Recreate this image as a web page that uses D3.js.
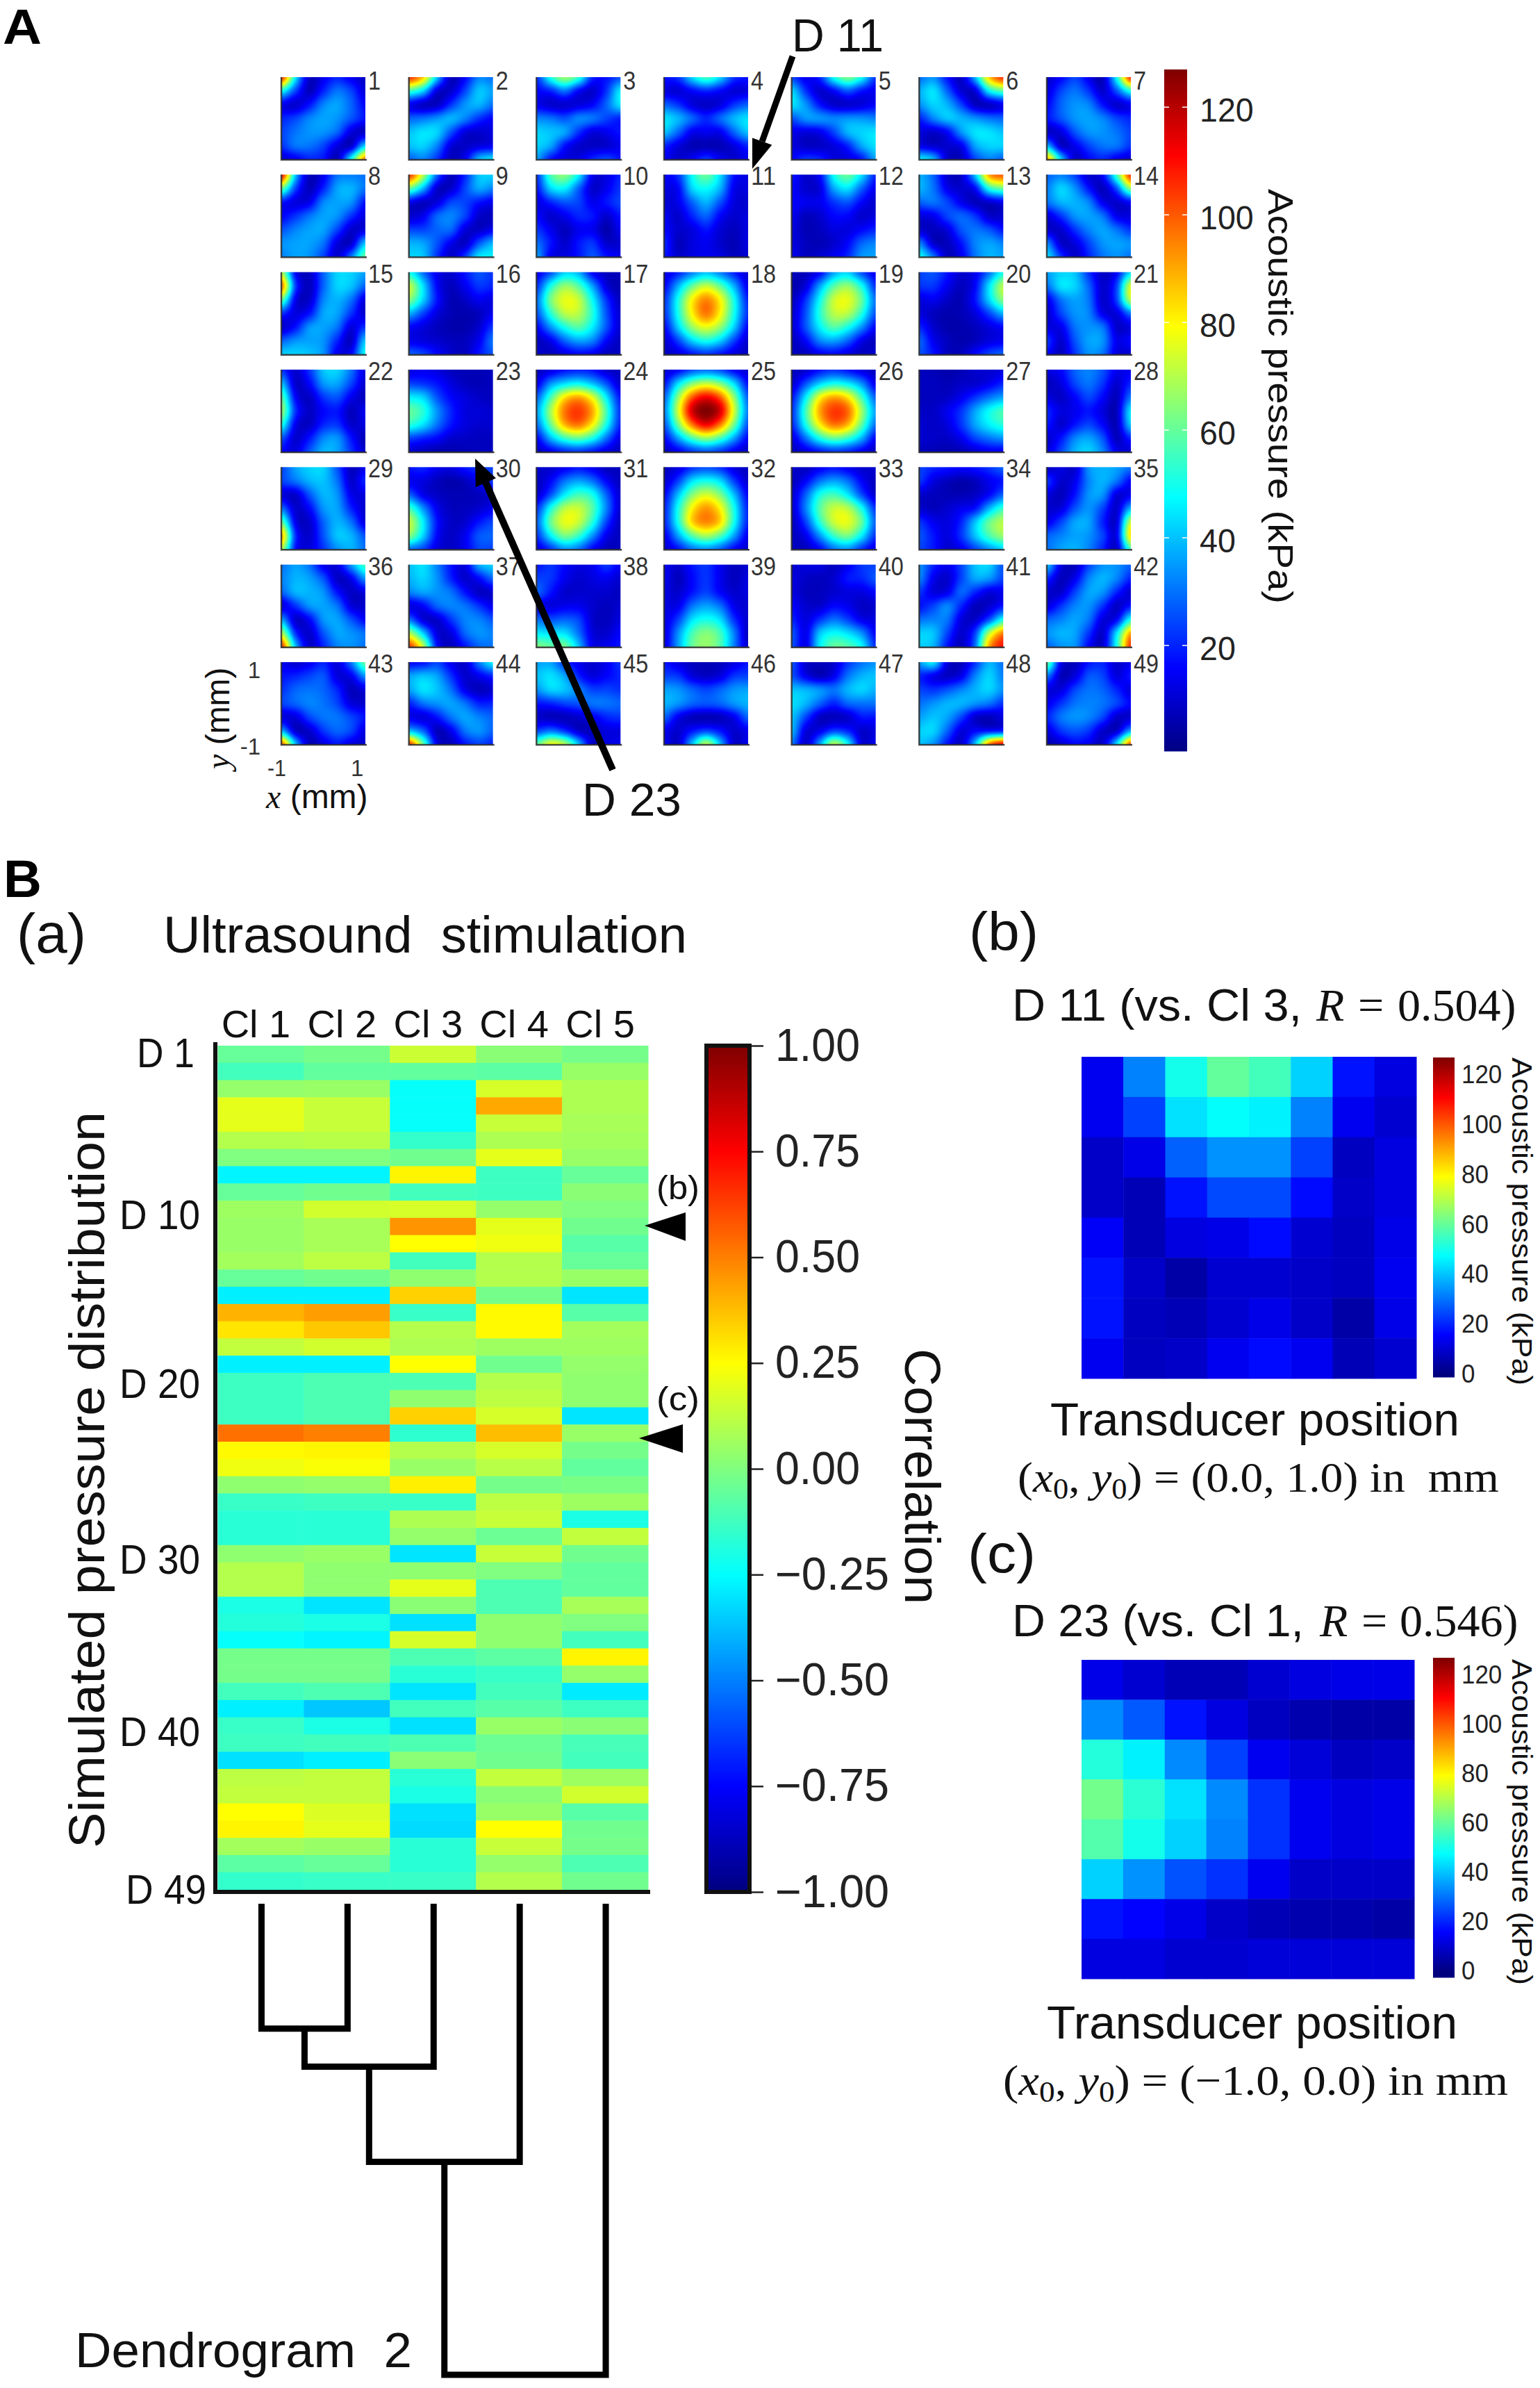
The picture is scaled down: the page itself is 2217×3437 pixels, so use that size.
<!DOCTYPE html>
<html>
<head>
<meta charset="utf-8">
<script src="https://d3js.org/d3.v7.min.js"></script>
<style>
body { margin: 0; background: white; }
text { white-space: pre; }
</style>
</head>
<body>
<script>
var W = 2217, H = 3437;
var SANS = "'Liberation Sans', Arial, sans-serif", SERIF = "'Liberation Serif', 'Times New Roman', serif";

//Simulated pressure maps in kPa, one 7x7 grid per transducer position D 1 .. D 49, top row first
var pressureMaps = [
[[105,45,9,14,20,14,9],[48,24,8,20,30,24,11],[14,10,18,32,36,28,16],[20,24,32,36,34,26,18],[24,30,34,34,28,12,9],[22,30,30,24,12,10,42],[10,14,20,18,8,48,95]],
[[105,85,40,8,16,32,30],[55,42,12,10,24,40,36],[14,9,9,22,34,38,30],[28,30,34,38,32,22,16],[40,44,42,26,12,10,12],[40,42,32,12,9,12,14],[28,32,22,8,14,38,44]],
[[22,50,66,52,20,18,26],[16,20,30,16,10,22,45],[14,10,10,12,16,28,44],[32,30,26,32,30,24,20],[42,40,36,22,12,14,18],[42,36,18,10,9,10,14],[36,18,12,12,20,24,18]],
[[18,22,42,55,42,22,18],[12,11,16,20,16,11,12],[28,22,12,9,12,22,28],[44,38,28,20,28,38,44],[40,28,14,14,14,28,40],[20,12,7,7,7,12,20],[14,10,14,22,14,10,14]],
[[24,14,20,48,62,48,22],[42,22,10,16,26,18,14],[44,34,18,10,10,12,16],[26,34,34,32,34,34,32],[14,12,14,24,38,42,44],[12,9,9,12,20,36,44],[16,22,20,12,12,18,36]],
[[30,34,18,9,38,85,105],[38,44,28,11,12,46,58],[34,42,38,24,9,9,14],[20,32,40,38,34,30,28],[12,10,16,34,44,44,40],[14,10,10,14,36,42,42],[46,38,10,8,24,32,28]],
[[10,16,24,14,8,48,105],[12,24,30,22,10,26,50],[16,28,34,32,18,10,14],[18,26,34,36,32,24,20],[9,12,26,34,34,30,24],[38,10,14,24,30,30,22],[90,42,10,16,20,14,10]],
[[110,40,8,14,30,32,30],[60,24,8,20,36,38,30],[18,12,14,32,36,34,18],[16,22,30,36,34,22,12],[26,32,36,36,24,10,12],[34,36,36,30,12,10,40],[32,36,34,24,10,30,60]],
[[105,70,28,8,20,40,42],[60,38,10,10,24,36,32],[14,9,12,24,24,18,14],[10,14,28,32,24,10,8],[24,24,28,28,12,9,14],[38,36,26,14,9,26,38],[42,40,22,9,22,44,46]],
[[22,56,64,46,14,12,20],[18,42,46,28,10,14,22],[12,20,26,24,14,18,24],[16,10,14,20,18,10,18],[22,14,8,14,14,6,14],[30,18,10,18,22,10,10],[36,14,12,18,26,18,14]],
[[14,22,48,60,44,18,12],[12,16,42,48,38,14,12],[10,14,28,38,26,12,10],[14,10,20,28,16,10,12],[16,10,12,18,11,8,12],[20,8,12,14,10,7,12],[18,10,12,14,12,8,10]],
[[18,10,16,48,60,44,20],[16,10,12,36,44,28,14],[16,14,14,22,26,16,10],[14,8,10,16,16,10,12],[12,7,8,12,12,16,20],[12,8,7,10,16,28,32],[14,8,10,14,20,34,36]],
[[38,28,10,10,40,90,100],[38,30,14,10,16,50,60],[28,30,24,14,8,10,14],[12,14,24,28,22,10,10],[10,8,12,26,30,26,18],[32,10,8,18,32,36,32],[48,30,8,14,30,38,36]],
[[28,32,24,10,16,55,105],[32,42,34,18,8,26,65],[30,38,38,32,14,10,16],[12,22,34,36,30,14,12],[10,10,22,32,36,30,22],[32,10,12,24,34,36,34],[44,22,9,20,30,34,30]],
[[70,16,9,28,42,42,36],[95,24,8,28,42,40,28],[60,14,10,32,38,30,12],[22,12,18,36,36,22,10],[10,18,34,36,30,12,22],[28,34,36,34,20,9,40],[42,42,40,34,14,16,48]],
[[50,30,14,10,18,26,22],[72,44,16,8,14,22,20],[64,42,18,7,9,14,12],[38,24,12,7,6,8,14],[16,12,8,6,6,10,22],[14,12,10,8,8,14,30],[28,24,16,10,8,18,26]],
[[14,26,42,38,16,8,8],[22,50,66,58,36,12,6],[30,62,76,72,48,22,8],[26,52,70,70,52,26,10],[16,34,50,58,46,26,10],[8,14,28,36,32,16,8],[10,8,12,16,14,8,8]],
[[12,20,32,40,32,20,10],[16,38,60,72,60,38,14],[22,50,80,94,80,50,20],[22,50,80,96,80,50,22],[16,42,66,76,66,42,16],[10,24,42,50,42,24,10],[8,12,18,22,18,12,8]],
[[8,8,16,36,42,26,14],[6,12,36,58,66,50,22],[8,22,48,72,76,60,30],[10,26,52,70,70,52,26],[10,26,46,58,50,34,16],[8,16,32,36,28,14,8],[8,8,14,16,12,8,10]],
[[24,26,18,10,14,30,50],[22,22,14,8,16,44,70],[12,14,9,7,18,42,64],[12,8,6,7,12,24,38],[20,10,6,6,8,12,16],[28,14,8,6,8,12,14],[26,18,8,8,16,24,28]],
[[36,42,40,22,9,16,44],[30,44,42,28,10,24,74],[14,30,36,30,10,24,70],[10,24,34,32,14,12,30],[12,14,30,34,30,10,12],[22,10,26,36,34,14,16],[16,8,22,34,30,12,10]],
[[22,10,22,40,42,30,12],[40,10,16,34,36,24,10],[58,16,9,22,26,14,8],[66,22,9,16,18,8,14],[50,14,9,20,22,10,12],[26,10,18,32,34,18,7],[16,12,26,38,36,22,10]],
[[12,14,12,8,7,7,8],[24,22,18,12,8,7,8],[46,42,26,16,12,9,8],[60,52,34,20,12,11,10],[52,44,30,18,12,10,10],[24,20,16,10,9,8,8],[10,8,6,6,7,8,8]],
[[8,12,18,20,18,10,8],[14,34,44,48,40,26,10],[28,56,82,90,76,46,18],[36,68,96,104,90,56,22],[30,60,88,96,80,50,20],[16,38,54,60,50,30,12],[8,14,20,22,18,12,8]],
[[10,16,26,30,26,16,10],[18,44,64,72,64,44,18],[28,66,100,112,100,66,28],[32,74,116,127,116,74,32],[26,62,96,112,96,62,26],[16,36,56,66,56,36,16],[8,14,22,26,22,14,8]],
[[8,10,18,22,18,12,8],[10,26,42,50,46,34,14],[18,46,78,90,82,56,28],[22,56,90,104,98,68,36],[20,50,80,96,88,60,30],[12,30,50,60,54,38,16],[8,12,18,22,20,14,8]],
[[8,7,6,7,10,10,12],[8,8,7,9,10,14,20],[8,8,9,14,22,30,36],[9,9,14,22,36,48,56],[10,9,12,22,36,46,52],[10,9,9,14,24,30,34],[8,7,6,7,10,14,14]],
[[12,16,28,32,26,14,14],[8,12,24,30,22,10,20],[12,9,16,24,16,8,30],[20,12,14,18,12,8,44],[18,10,18,24,16,8,40],[10,18,32,36,26,8,20],[12,24,38,42,32,14,10]],
[[24,36,42,42,26,8,14],[24,30,38,40,30,10,20],[12,10,26,38,34,14,12],[30,10,16,34,36,20,10],[60,14,10,28,38,30,12],[88,22,10,26,40,38,26],[70,18,12,22,34,38,30]],
[[18,20,14,12,18,22,24],[14,12,8,6,8,14,22],[28,14,9,7,7,8,10],[56,34,14,8,8,10,14],[72,46,18,9,10,18,24],[64,42,16,9,14,26,28],[30,24,12,9,14,24,24]],
[[10,10,14,18,14,8,8],[8,16,30,36,30,16,8],[10,26,46,56,50,28,10],[22,50,70,72,58,32,10],[28,60,76,72,52,24,8],[22,46,62,54,34,14,8],[12,22,34,30,16,8,8]],
[[8,12,22,26,22,12,8],[10,24,44,50,44,24,10],[16,40,64,74,64,40,16],[20,50,80,92,80,50,20],[20,50,84,94,84,50,20],[14,36,58,68,58,36,14],[10,18,30,34,28,16,10]],
[[10,8,14,18,14,10,10],[8,16,30,36,30,16,8],[10,28,50,56,46,26,10],[10,32,58,72,70,50,22],[8,24,52,72,76,60,28],[8,14,34,54,62,46,22],[8,8,16,30,34,22,12]],
[[24,20,18,16,18,22,28],[22,12,8,6,8,14,18],[10,8,7,7,9,16,28],[10,8,10,14,18,38,54],[22,14,12,20,40,60,70],[26,18,12,22,40,56,66],[24,18,10,14,24,34,42]],
[[8,12,10,34,38,36,30],[22,10,14,32,38,30,16],[12,8,18,34,34,12,14],[10,12,26,34,24,10,38],[14,24,36,36,20,12,72],[28,32,36,34,24,14,82],[30,36,38,32,20,10,55]],
[[30,36,30,14,12,34,55],[32,38,36,26,9,14,34],[28,38,38,34,18,9,12],[12,22,34,36,30,12,10],[36,10,16,34,36,26,16],[70,22,10,26,36,34,30],[105,40,10,20,32,34,30]],
[[40,44,32,18,12,36,42],[38,42,34,20,10,16,28],[32,36,34,30,18,9,10],[12,16,28,32,30,22,14],[30,12,10,22,32,32,26],[70,42,12,12,28,34,32],[105,72,18,8,18,28,30]],
[[18,22,16,12,14,22,14],[24,22,14,10,12,14,10],[28,18,10,10,10,10,8],[14,12,14,14,10,8,10],[30,26,28,24,10,8,12],[46,44,44,30,12,10,16],[64,60,62,40,14,14,18]],
[[14,10,18,22,14,8,10],[14,8,16,22,14,8,12],[12,10,18,24,16,10,12],[12,14,30,36,30,14,10],[12,24,44,50,44,22,10],[12,34,56,64,56,32,8],[12,36,60,66,58,32,10]],
[[10,12,12,8,14,22,24],[12,9,8,10,18,20,26],[12,8,8,10,12,12,16],[16,10,10,16,14,9,10],[20,12,22,30,24,14,12],[26,14,40,48,44,34,16],[26,14,46,60,58,48,22]],
[[34,20,14,24,40,42,26],[32,14,10,24,36,34,24],[22,12,14,28,20,12,14],[18,24,32,20,8,10,18],[30,32,30,12,10,26,50],[42,40,24,10,24,70,95],[42,38,18,8,30,90,110]],
[[40,12,8,24,34,34,28],[20,8,14,32,38,32,20],[10,10,24,36,34,20,10],[12,22,32,34,22,9,18],[28,32,36,30,12,16,50],[34,38,36,22,10,44,90],[28,34,34,16,10,50,105]],
[[14,10,14,20,12,30,60],[18,20,24,26,12,14,34],[22,28,30,28,20,8,12],[24,28,32,30,24,12,10],[12,12,24,30,30,24,18],[38,10,10,22,28,24,12],[100,40,8,12,18,12,10]],
[[16,18,24,14,10,30,46],[36,40,36,22,10,14,20],[36,44,40,30,14,8,10],[20,30,34,36,30,20,20],[14,12,18,30,36,32,28],[40,28,8,14,30,34,28],[105,60,14,8,18,24,20]],
[[36,36,22,14,10,14,22],[40,44,36,20,12,16,20],[34,42,40,32,24,24,22],[18,20,24,26,30,30,28],[10,8,8,10,14,20,22],[24,30,22,10,8,12,12],[60,78,70,40,10,12,14]],
[[18,12,8,7,8,12,18],[24,22,12,9,12,22,24],[36,34,28,24,28,34,36],[38,34,28,26,28,34,38],[28,14,8,7,8,14,28],[14,10,18,24,18,10,14],[14,10,40,70,40,10,14]],
[[26,10,8,10,22,30,34],[26,14,8,14,30,38,40],[40,38,34,30,38,42,38],[44,38,28,20,28,30,30],[40,24,9,8,10,18,18],[38,12,14,24,20,10,12],[30,10,36,70,48,12,14]],
[[36,44,12,8,22,38,30],[20,14,9,14,32,42,32],[24,22,26,32,38,42,34],[30,34,38,38,34,30,22],[36,40,36,24,10,8,12],[42,42,28,12,16,18,20],[40,34,18,10,40,95,112]],
[[60,14,8,18,20,10,14],[30,8,12,26,24,12,18],[12,12,24,30,28,20,12],[14,22,30,32,30,24,16],[20,30,34,32,24,10,10],[12,22,26,22,10,10,36],[6,10,16,14,10,44,100]]
];

//Correlation of each distribution with the five clusters
var clusters = ["Cl 1", "Cl 2", "Cl 3", "Cl 4", "Cl 5"];
var corrCl1 = [-.05,-.12,.04,.2,.2,.1,0,-.27,-.05,.06,.05,.05,.07,-.05,-.28,.4,.3,.13,-.28,-.13,-.13,-.13,.53,.26,.22,.03,-.14,-.17,-.17,.03,.1,.1,-.2,-.18,-.24,-.02,-.02,-.12,-.28,-.14,-.13,-.31,.12,.13,.25,.27,.07,-.07,-.15];
var corrCl2 = [-.02,-.06,.05,.14,.14,.11,0,-.27,-.03,.16,.08,.08,.12,-.03,-.28,.44,.36,.16,-.28,-.1,-.1,-.1,.5,.27,.24,.04,-.13,-.17,-.17,.05,.03,.03,-.3,-.2,-.27,-.02,-.02,-.1,-.36,-.2,-.12,-.28,.13,.13,.18,.2,.05,-.05,-.14];
var corrCl3 = [.15,-.06,-.24,-.24,-.24,-.15,-.03,.27,-.12,.17,.46,.25,-.12,.03,.34,-.14,.1,.09,.25,-.1,.03,.34,-.16,.1,.05,.28,-.14,.09,.04,-.3,.03,.2,.02,-.31,.17,-.1,-.17,-.3,-.12,-.31,-.1,.02,-.17,-.2,-.31,-.32,-.17,-.17,-.14];
var corrCl4 = [.02,-.07,.17,.42,.14,.09,.2,-.13,-.13,.04,.2,.22,.1,.1,-.02,.26,.26,.06,-.03,.1,.12,.17,.38,.17,.11,-.02,.12,.14,-.04,.14,0,-.1,-.1,.03,.03,-.07,-.14,-.12,-.08,.05,-.04,-.03,.13,.02,.05,.25,.14,.04,.1];
var corrCl5 = [-.02,.05,.09,.09,.08,.07,.05,-.05,.02,0,-.03,-.08,-.05,.05,-.3,-.08,.07,.06,.04,.03,.03,-.3,.05,-.02,-.06,-.01,.06,-.2,.13,-.03,-.06,-.06,.08,0,-.12,.27,.04,-.29,-.13,.02,-.11,-.12,.06,.16,-.08,-.03,-.02,-.1,-.03];
var corrTicks = [1, .75, .5, .25, 0, -.25, -.5, -.75, -1];

//Measured maps for D 11 and D 23
var measuredD11 = [[14,32,50,60,56,42,18,12],[14,24,44,48,46,32,14,10],[9,13,28,34,34,24,8,12],[9,7,18,25,25,17,9,12],[15,7,12,13,17,10,8,13],[18,9,5,10,10,9,8,14],[18,8,7,10,13,9,5,13],[14,8,9,14,17,14,7,10]];
var measuredD23 = [[13,10,7,7,10,12,13,13],[33,27,18,12,8,6,5,5],[52,46,33,24,14,11,8,9],[62,53,44,33,22,14,12,13],[58,50,42,32,22,14,12,13],[42,34,26,22,14,9,9,9],[18,16,13,9,7,6,6,5],[12,12,10,10,11,11,11,11]];
var pressureTicks = [20, 40, 60, 80, 100, 120];
var pressureTicksSmall = [0, 20, 40, 60, 80, 100, 120];

//Merge heights of dendrogram 2, leaves in cluster order
var dendroHeights = [.265, .346, .548, 1];

var yLabels = ["D 1", "D 10", "D 20", "D 30", "D 40", "D 49"];
//These labels do not sit exactly on their rows in the figure
var yLabelNudge = [-2, 8, 3, 8, 8, 12];
var yLabelRight = [280, 288, 288, 288, 288, 297];

var PMAX = 127;
var jet = d3.scaleLinear()
	.domain([0, .125, .375, .625, .875, 1])
	.range(["#00007f", "#0000ff", "#00ffff", "#ffff00", "#ff0000", "#7f0000"]);
var pressureColor = function(v){return jet(v/PMAX)};
var corrColor = function(r){return jet((r+1)/2)};
var jetLut = d3.range(1024).map(function(i){return d3.rgb(jet(i/1023))});

var svg = d3.select("body")
	.append("svg")
	.attr("width", W)
	.attr("height", H)
	.style("display", "block");

svg.append("rect")
	.attr("width", W)
	.attr("height", H)
	.style("fill", "white");

//Text helper, len squeezes the text to the width seen in the figure
function label(parent, x, y, str, size, o){
	o = o || {};
	var t = parent.append("text")
		.attr("transform", "translate(" + x + "," + y + ")" + (o.rot ? " rotate(" + o.rot + ")" : ""))
		.style("font-family", o.serif ? SERIF : SANS)
		.style("font-size", size + "px")
		.style("font-weight", o.bold ? "bold" : "normal")
		.style("font-style", o.italic ? "italic" : "normal")
		.style("fill", o.fill || "#111")
		.text(str);
	if(o.len) t.attr("textLength", o.len).attr("lengthAdjust", "spacingAndGlyphs");
	return t;
}

function arrow(x1, y1, x2, y2, w, headL, headW){
	var L = Math.hypot(x2-x1, y2-y1), ux = (x2-x1)/L, uy = (y2-y1)/L;
	var bx = x2-ux*headL, by = y2-uy*headL;
	svg.append("line")
		.attr("x1", x1).attr("y1", y1).attr("x2", bx).attr("y2", by)
		.style("stroke", "black").style("stroke-width", w);
	svg.append("polygon")
		.attr("points", [[x2, y2], [bx-uy*headW/2, by+ux*headW/2], [bx+uy*headW/2, by-ux*headW/2]].join(" "))
		.style("fill", "black");
}

function triangle(tipX, tipY, baseX, y0, y1){
	svg.append("polygon")
		.attr("points", [[tipX, tipY], [baseX, y0], [baseX, y1]].join(" "))
		.style("fill", "black");
}

//---------- A: the 7x7 grid of pressure maps ----------
var mapW = 121, mapH = 119;
var colX = d3.scaleLinear().domain([0, 6]).range([405, 1507]);
var rowY = d3.scaleLinear().domain([0, 6]).range([111, 953]);

//Catmull-Rom through the grid values, only to shade the image like the original figure
function shade(a, t){
	var n = a.length-1, p = t*n, i = Math.min(n-1, Math.floor(p)), f = p-i;
	var p0 = a[Math.max(0, i-1)], p1 = a[i], p2 = a[i+1], p3 = a[Math.min(n, i+2)];
	return .5*(2*p1 + (p2-p0)*f + (2*p0-5*p1+4*p2-p3)*f*f + (3*p1-p0-3*p2+p3)*f*f*f);
}

function rasterMap(grid, w, h){
	var canvas = document.createElement("canvas");
	canvas.width = w;
	canvas.height = h;
	var ctx = canvas.getContext("2d"), img = ctx.createImageData(w, h);
	var rows = grid.map(function(r){
		return d3.range(w).map(function(x){return shade(r, x/(w-1))});
	});
	d3.range(w).forEach(function(x){
		var col = rows.map(function(r){return r[x]});
		d3.range(h).forEach(function(y){
			var c = jetLut[Math.max(0, Math.min(1023, Math.round(shade(col, y/(h-1))/PMAX*1023)))];
			var k = (y*w+x)*4;
			img.data[k] = c.r; img.data[k+1] = c.g; img.data[k+2] = c.b; img.data[k+3] = 255;
		});
	});
	ctx.putImageData(img, 0, 0);
	return canvas.toDataURL();
}

var maps = svg.selectAll("g.map")
	.data(pressureMaps)
	.enter().append("g")
	.attr("class", "map")
	.attr("transform", function(d, i){return "translate(" + colX(i%7) + "," + rowY(Math.floor(i/7)) + ")"});

maps.append("image")
	.attr("width", mapW)
	.attr("height", mapH)
	.attr("href", function(d){return rasterMap(d, mapW, mapH)});

maps.append("path")
	.attr("d", "M0,0V" + mapH + "H" + (mapW+2))
	.style("fill", "none")
	.style("stroke", "#2a2a2a")
	.style("stroke-width", 2.5)
	.style("opacity", .85);

maps.append("text")
	.attr("x", mapW+4)
	.attr("y", function(d, i){return i < 7 ? 18 : 15})
	.attr("textLength", function(d, i){return String(i+1).length*18})
	.attr("lengthAdjust", "spacingAndGlyphs")
	.style("font-family", SANS)
	.style("font-size", "36px")
	.style("fill", "#333")
	.text(function(d, i){return i+1});

//axis marks next to panel 43
label(svg, 375, 976, "1", 33, {fill:"#333"}).style("text-anchor", "end");
label(svg, 375, 1086, "-1", 33, {fill:"#333"}).style("text-anchor", "end");
label(svg, 385, 1117, "-1", 33, {fill:"#333", len:27});
label(svg, 505, 1117, "1", 33, {fill:"#333"});

var xUnit = label(svg, 383, 1163, "", 48);
xUnit.append("tspan").style("font-family", SERIF).style("font-style", "italic").text("x");
xUnit.append("tspan").text(" (mm)");
var yUnit = label(svg, 330, 1107, "", 48, {rot:-90});
yUnit.append("tspan").style("font-family", SERIF).style("font-style", "italic").text("y");
yUnit.append("tspan").text(" (mm)");

function pressureBar(x, w, y0, y1, barBottom, ticks, size, pad, nick, shift){
	var y = d3.scaleLinear().domain([0, PMAX]).range([y0, y1]);
	var g = svg.append("g");
	g.selectAll("rect")
		.data(d3.range(y1, barBottom))
		.enter().append("rect")
		.attr("x", x)
		.attr("y", function(d){return d})
		.attr("width", w)
		.attr("height", 1.5)
		.style("fill", function(d){return pressureColor(Math.max(0, y.invert(d)))});
	var axis = svg.append("g")
		.attr("transform", "translate(" + (x+w) + "," + shift + ")")
		.call(d3.axisRight(y).tickValues(ticks).tickSize(0).tickPadding(pad));
	axis.select(".domain").remove();
	axis.selectAll("text")
		.style("font-family", SANS)
		.style("font-size", size + "px")
		.style("fill", "#222")
		.attr("textLength", function(d){return String(d).length*size*.54})
		.attr("lengthAdjust", "spacingAndGlyphs");
	if(nick){
		g.selectAll("line")
			.data(ticks)
			.enter().append("line")
			.attr("x1", x)
			.attr("x2", x+w)
			.attr("y1", y)
			.attr("y2", y)
			.style("stroke", "white")
			.style("stroke-width", 1.5)
			.style("stroke-dasharray", "7 " + (w-14) + " 7");
	}
}

pressureBar(1676, 33, 1084, 100, 1081, pressureTicks, 48, 18, true, 5);
label(svg, 1826, 272, "Acoustic pressure (kPa)", 50, {rot:90, len:597});

label(svg, 4, 63, "A", 70, {bold:true, fill:"black", len:56});
label(svg, 1140, 74, "D 11", 66, {len:132});
arrow(1141, 81, 1083, 243, 9, 42, 30);
label(svg, 838, 1174, "D 23", 66, {len:143});
arrow(882, 1108, 684, 660, 10, 38, 32);

//---------- B (a): correlation table ----------
label(svg, 5, 1291, "B", 76, {bold:true, fill:"black"});
label(svg, 24, 1371, "(a)", 80, {len:100});
label(svg, 235, 1371, "Ultrasound  stimulation", 74, {len:754});
label(svg, 150, 2660, "Simulated pressure distribution", 72, {rot:-90, len:1060});

var corrRows = d3.range(49).map(function(i){
	return [corrCl1[i], corrCl2[i], corrCl3[i], corrCl4[i], corrCl5[i]];
});
var xBand = d3.scaleBand().domain(clusters).range([313.5, 933]);
var yBand = d3.scaleBand().domain(d3.range(1, 50)).range([1505, 2719.5]);

svg.append("g").selectAll("g")
	.data(corrRows)
	.enter().append("g")
	.attr("transform", function(d, i){return "translate(0," + yBand(i+1) + ")"})
	.selectAll("rect")
	.data(function(d){return d})
	.enter().append("rect")
	.attr("x", function(d, j){return xBand(clusters[j])})
	.attr("width", xBand.bandwidth()+.5)
	.attr("height", yBand.bandwidth()+.5)
	.style("fill", corrColor);

svg.append("path")
	.attr("d", "M310,1500V2723H936")
	.style("fill", "none")
	.style("stroke", "#111")
	.style("stroke-width", 6);

clusters.forEach(function(c){
	label(svg, xBand(c)+xBand.bandwidth()/2-7, 1493, c, 56, {}).style("text-anchor", "middle");
});

yLabels.forEach(function(s, i){
	var n = +s.slice(2);
	label(svg, yLabelRight[i], yBand(n)+yBand.bandwidth()/2+yLabelNudge[i]+21, s, 60, {len:s.length == 3 ? 83 : 116}).style("text-anchor", "end");
});

triangle(928, 1764, 987, 1745, 1786);
triangle(920, 2070, 983, 2050, 2091);
label(svg, 945, 1726, "(b)", 48, {len:62});
label(svg, 945, 2030, "(c)", 48, {len:62});

//correlation colour bar
var corrY = d3.scaleLinear().domain([-1, 1]).range([2723, 1505]);
svg.append("g").selectAll("rect")
	.data(d3.range(1505, 2723))
	.enter().append("rect")
	.attr("x", 1017)
	.attr("y", function(d){return d})
	.attr("width", 62)
	.attr("height", 1.5)
	.style("fill", function(d){return corrColor(corrY.invert(d))});
svg.append("rect")
	.attr("x", 1017).attr("y", 1505).attr("width", 62).attr("height", 1218)
	.style("fill", "none").style("stroke", "#111").style("stroke-width", 6);

var corrAxis = svg.append("g")
	.attr("transform", "translate(1082,0)")
	.call(d3.axisRight(corrY).tickValues(corrTicks).tickSize(17).tickPadding(17)
		.tickFormat(function(d){return d3.format(".2f")(d)}));
corrAxis.select(".domain").remove();
corrAxis.selectAll("line").style("stroke", "#222").style("stroke-width", 2.5);
corrAxis.selectAll("text")
	.style("font-family", SANS)
	.style("font-size", "66px")
	.style("fill", "#222")
	.attr("textLength", function(d){return d < 0 ? 164 : 122})
	.attr("lengthAdjust", "spacingAndGlyphs");

label(svg, 1303, 1941, "Correlation", 72, {rot:90, len:368});

//dendrogram
var dendroY = d3.scaleLinear().domain([0, 1]).range([2740, 3418]);
var centre = function(c){return xBand(c)+xBand.bandwidth()/2+1};
var stem = centre(clusters[0]), prevH = 0;
dendroHeights.forEach(function(h, k){
	var right = centre(clusters[k+1]);
	svg.append("path")
		.attr("d", d3.line()([[stem, dendroY(prevH)], [stem, dendroY(h)], [right, dendroY(h)], [right, dendroY(0)]]))
		.style("fill", "none")
		.style("stroke", "black")
		.style("stroke-width", 9);
	stem = (stem+right)/2;
	prevH = h;
});
label(svg, 108, 3407, "Dendrogram  2", 70, {len:485});

//---------- B (b) and (c): measured maps ----------
function cellMap(grid, x0, x1, y0, y1){
	var cx = d3.scaleBand().domain(d3.range(8)).range([x0, x1]);
	var cy = d3.scaleBand().domain(d3.range(8)).range([y0, y1]);
	svg.append("g").selectAll("g")
		.data(grid)
		.enter().append("g")
		.attr("transform", function(d, i){return "translate(0," + cy(i) + ")"})
		.selectAll("rect")
		.data(function(d){return d})
		.enter().append("rect")
		.attr("x", function(d, j){return cx(j)})
		.attr("width", cx.bandwidth()+.5)
		.attr("height", cy.bandwidth()+.5)
		.style("fill", pressureColor);
}

function title(y, name, rest, rx, eqx, nx, val){
	label(svg, 1457, y, name, 64, {len:rest});
	label(svg, rx, y, "R", 66, {serif:true, italic:true});
	label(svg, eqx, y, "=", 66, {serif:true});
	label(svg, nx, y, val, 66, {serif:true});
}

function position(x, y, len, a, b, tail){
	var t = label(svg, x, y, "", 62, {serif:true, len:len});
	t.append("tspan").text("(");
	t.append("tspan").style("font-style", "italic").text("x");
	t.append("tspan").attr("dy", 10).style("font-size", "42px").text("0");
	t.append("tspan").attr("dy", -10).text(", ");
	t.append("tspan").style("font-style", "italic").text("y");
	t.append("tspan").attr("dy", 10).style("font-size", "42px").text("0");
	t.append("tspan").attr("dy", -10).text(") = (" + a + ", " + b + ") in " + tail);
}

label(svg, 1395, 1368, "(b)", 78, {len:100});
title(1469, "D 11 (vs. Cl 3,", 417, 1895, 1955, 2012, "0.504)");
cellMap(measuredD11, 1557, 2039, 1521, 1984);
pressureBar(2063, 31, 1978, 1522, 1982, pressureTicksSmall, 36, 10, false, 0);
label(svg, 2177, 1522, "Acoustic pressure (kPa)", 40, {rot:90, len:472});
label(svg, 1512, 2066, "Transducer position", 66, {len:589});
position(1465, 2147, 693, "0.0", "1.0", " mm");

label(svg, 1393, 2263, "(c)", 78, {len:98});
title(2355, "D 23 (vs. Cl 1,", 420, 1900, 1960, 2015, "0.546)");
cellMap(measuredD23, 1557, 2036, 2389, 2848);
pressureBar(2063, 31, 2837, 2386, 2846, pressureTicksSmall, 36, 10, false, 0);
label(svg, 2177, 2388, "Acoustic pressure (kPa)", 40, {rot:90, len:469});
label(svg, 1507, 2934, "Transducer position", 66, {len:591});
position(1444, 3015, 727, "\u22121.0", "0.0", "mm");
</script>
</body>
</html>
